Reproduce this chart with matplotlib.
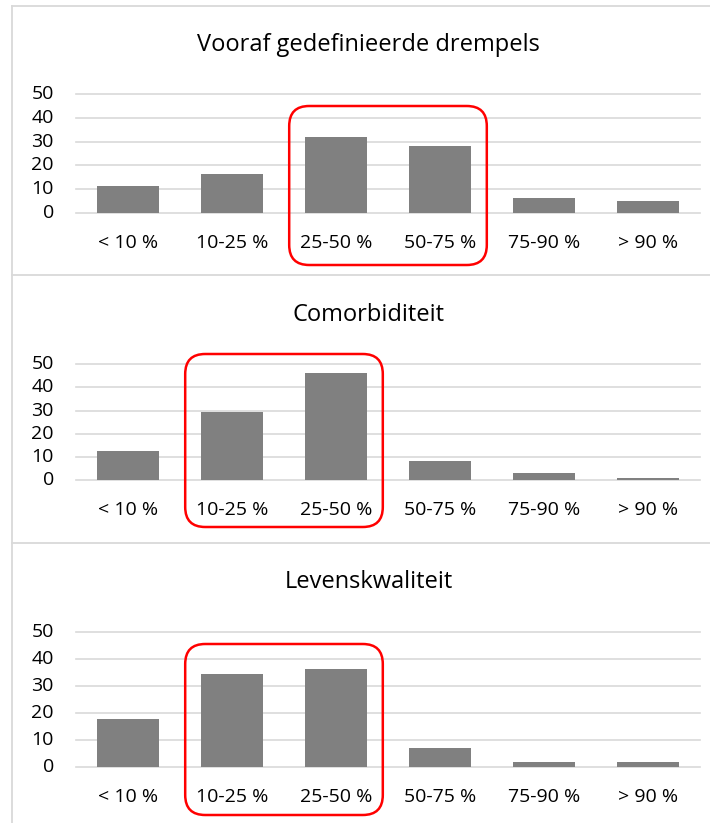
import matplotlib
matplotlib.use("Agg")
import matplotlib.pyplot as plt
from matplotlib.patches import FancyBboxPatch
from matplotlib.lines import Line2D
from matplotlib.transforms import IdentityTransform

plt.rcParams['font.family'] = ['Open Sans', 'DejaVu Sans']

categories = ["< 10 %", "10-25 %", "25-50 %", "50-75 %", "75-90 %", "> 90 %"]

titles = ["Vooraf gedefinieerde drempels", "Comorbiditeit", "Levenskwaliteit"]
vooraf = [11.3, 16.5, 32.0, 28.0, 6.2, 5.1]
comorbiditeit = [12.4, 29.3, 46.1, 8.2, 2.9, 0.9]
levenskwaliteit = [17.7, 34.3, 36.4, 7.0, 1.85, 1.85]
highlight = [(2, 3), (1, 2), (1, 2)]
yticks = [0, 10, 20, 30, 40, 50]

W, H = 710, 823
fig = plt.figure(figsize=(W / 100, H / 100), dpi=100)

# panel layout in pixels: (axes top, axes bottom, title y, box top, box bottom)
panels = [
    (94.3, 212.7, 45, 106, 265),
    (364.3, 480.0, 315, 354, 527),
    (632.0, 767.0, 582, 644, 815),
]
ax_left, ax_right = 76, 700

grid_col = "#D9D9D9"
bar_col = "#808080"

# outer chart frames
frame_kw = dict(color=grid_col, lw=1.3, transform=fig.transFigure)
fig.add_artist(Line2D([12 / W, 12 / W], [1 - 6 / H, 0], **frame_kw))
for yy in (6, 275, 543):
    fig.add_artist(Line2D([12 / W, 1], [1 - yy / H, 1 - yy / H], **frame_kw))

series = [vooraf, comorbiditeit, levenskwaliteit]
axes = []
for (top, bottom, ty, btop, bbot), title, vals in zip(panels, titles, series):
    ax = fig.add_axes([ax_left / W, 1 - bottom / H, (ax_right - ax_left) / W, (bottom - top) / H])
    x = range(len(categories))
    ax.bar(x, vals, width=0.59, color=bar_col, zorder=3)
    ax.set_xlim(-0.5, len(categories) - 0.5)
    ax.set_ylim(0, 50)
    ax.set_yticks(yticks)
    ax.set_xticks(list(x))
    ax.set_xticklabels(categories)
    for yv in yticks:
        ax.axhline(yv, color=grid_col, lw=1.2, zorder=1, clip_on=False)
    for s in ax.spines.values():
        s.set_visible(False)
    ax.tick_params(axis="both", length=0, labelsize=14, colors="#000000")
    ax.tick_params(axis="x", pad=15)
    ax.tick_params(axis="y", pad=16)
    for lab in ax.get_yticklabels():
        lab.set_verticalalignment("center")
    fig.text((12 + 725) / 2 / W, 1 - ty / H, title, ha="center", va="center", fontsize=17)
    axes.append((ax, btop, bbot))

# rounded red boxes around the highlighted categories
for (ax, btop, bbot), (c0, c1) in zip(axes, highlight):
    x0 = ax.transData.transform((c0 - 0.45, 0))[0]
    x1 = ax.transData.transform((c1 + 0.45, 0))[0]
    y0 = H - bbot
    y1 = H - btop
    r = 20
    box = FancyBboxPatch((x0 + r, y0 + r), (x1 - x0) - 2 * r, (y1 - y0) - 2 * r,
                         boxstyle=f"round,pad={r}", fill=False, edgecolor="#FF0000",
                         lw=1.8, transform=IdentityTransform(), zorder=10)
    fig.add_artist(box)

fig.savefig("out.png", dpi=100)
